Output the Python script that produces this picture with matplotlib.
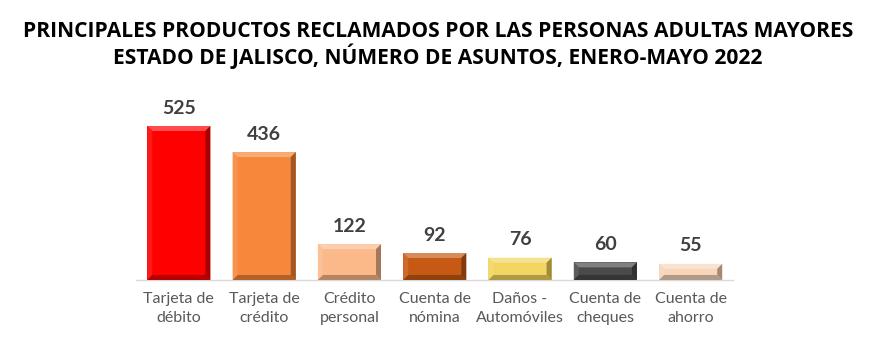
import matplotlib

matplotlib.use("Agg")
import matplotlib.pyplot as plt  # noqa: E402
from matplotlib.patches import Polygon  # noqa: E402
from matplotlib.colors import to_rgb  # noqa: E402

# datos
categories = [
    "Tarjeta de\ndébito",
    "Tarjeta de\ncrédito",
    "Crédito\npersonal",
    "Cuenta de\nnómina",
    "Daños -\nAutomóviles",
    "Cuenta de\ncheques",
    "Cuenta de\nahorro",
]
values = [525, 436, 122, 92, 76, 60, 55]
colors = ["#FF0000", "#F7873B", "#FBB98A", "#C65A14", "#F2D660", "#4A4A4A", "#F6D5BB"]

title = ("PRINCIPALES PRODUCTOS RECLAMADOS POR LAS PERSONAS ADULTAS MAYORES\n"
         "ESTADO DE JALISCO, NÚMERO DE ASUNTOS, ENERO-MAYO 2022")


def shade(color, factor):
    """Aclara (factor>0) u oscurece (factor<0) un color."""
    r, g, b = to_rgb(color)
    if factor >= 0:
        return tuple(c + (1 - c) * factor for c in (r, g, b))
    return tuple(c * (1 + factor) for c in (r, g, b))


fig = plt.figure(figsize=(8.76, 3.63), dpi=100)
ax = fig.add_axes([0.1555, 0.2287, 0.6816, 0.4848])
ylim_top = 600
ax.set_xlim(-0.5, len(values) - 0.5)
ax.set_ylim(0, ylim_top)

# tamaño del bisel en unidades de datos (~5 px)
px_x = 1.0 / 85.3
px_y = ylim_top / (0.4848 * 363)
bx, by = 5 * px_x, 5 * px_y
width = 0.74

for i, (v, c) in enumerate(zip(values, colors)):
    x0, x1 = i - width / 2, i + width / 2
    y0, y1 = 0, v
    ax.add_patch(Polygon([(x0, y0), (x1, y0), (x1, y1), (x0, y1)], closed=True,
                         facecolor=c, edgecolor="none", zorder=2))
    # caras del bisel
    faces = [
        ([(x0, y1), (x1, y1), (x1 - bx, y1 - by), (x0 + bx, y1 - by)], 0.3),
        ([(x0, y0), (x0, y1), (x0 + bx, y1 - by), (x0 + bx, y0 + by)], 0.1),
        ([(x1, y0), (x1, y1), (x1 - bx, y1 - by), (x1 - bx, y0 + by)], -0.35),
        ([(x0, y0), (x1, y0), (x1 - bx, y0 + by), (x0 + bx, y0 + by)], -0.28),
    ]
    for pts, f in faces:
        ax.add_patch(Polygon(pts, closed=True, facecolor=shade(c, f),
                             edgecolor="none", zorder=3))
    ax.text(i, v + 32, str(v), ha="center", va="bottom", fontsize=14,
            fontweight="bold", color="#404040", family="Lato")

ax.set_xticks(range(len(categories)))
ax.set_xticklabels(categories, fontsize=11.5, color="#595959", family="Lato",
                   linespacing=1.45)
ax.tick_params(axis="x", length=0, pad=9)
ax.set_yticks([])
for side in ("top", "right", "left"):
    ax.spines[side].set_visible(False)
ax.spines["bottom"].set_color("#D9D9D9")
ax.spines["bottom"].set_linewidth(1.0)

fig.text(0.5, 0.876, title, ha="center", va="center", fontsize=15.1,
         fontweight="bold", color="#000000", family="Open Sans", linespacing=1.1)

fig.savefig("out.png", dpi=100)
